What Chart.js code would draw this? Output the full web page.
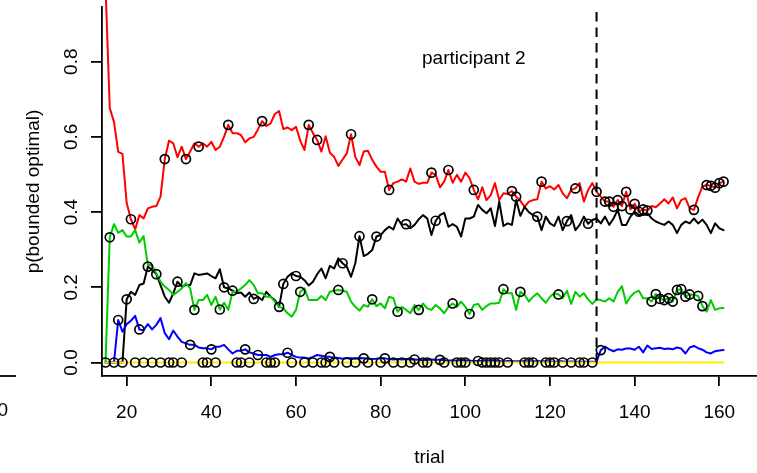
<!DOCTYPE html>
<html>
<head>
<meta charset="utf-8">
<script src="https://cdn.jsdelivr.net/npm/chart.js@4.4.1/dist/chart.umd.min.js"></script>
<style>
  html, body { margin: 0; padding: 0; background: #fff; }
  canvas { display: block; }
</style>
</head>
<body>
<canvas id="c" width="757" height="473"></canvas>
<script>
// trials 15..161
const firstTrial = 15;
const lastTrial = 161;
const trials = [];
for (let t = firstTrial; t <= lastTrial; t++) trials.push(t);

const xTicks = [20, 40, 60, 80, 100, 120, 140, 160];
const yTicks = [0, 0.2, 0.4, 0.6, 0.8];
const switchTrial = 131;

const red = [
  1.0, 0.677, 0.64, 0.56, 0.555, 0.424, 0.381, 0.354, 0.392, 0.383,
  0.41, 0.414, 0.416, 0.441, 0.541, 0.59, 0.583, 0.546, 0.574, 0.541,
  0.561, 0.583, 0.574, 0.583, 0.574, 0.587, 0.565, 0.574, 0.60, 0.632,
  0.61, 0.61, 0.605, 0.586, 0.596, 0.60, 0.62, 0.642, 0.629, 0.636,
  0.661, 0.669, 0.621, 0.625, 0.618, 0.627, 0.59, 0.565, 0.632, 0.61,
  0.592, 0.561, 0.602, 0.558, 0.547, 0.523, 0.54, 0.556, 0.607, 0.547,
  0.525, 0.561, 0.563, 0.539, 0.521, 0.507, 0.507, 0.459, 0.477, 0.481,
  0.487, 0.481, 0.516, 0.481, 0.475, 0.478, 0.478, 0.505, 0.499, 0.466,
  0.481, 0.512, 0.478, 0.499, 0.481, 0.505, 0.49, 0.459, 0.434, 0.466,
  0.432, 0.445, 0.477, 0.432, 0.45, 0.448, 0.456, 0.441, 0.43, 0.414,
  0.428, 0.432, 0.434, 0.481, 0.463, 0.469, 0.46, 0.472, 0.45, 0.437,
  0.459, 0.463, 0.477, 0.428, 0.459, 0.477, 0.454, 0.441, 0.428, 0.428,
  0.414, 0.432, 0.416, 0.454, 0.407, 0.422, 0.401, 0.407, 0.404, 0.416,
  0.413, 0.423, 0.434, 0.423, 0.439, 0.41, 0.432, 0.437, 0.41, 0.406,
  0.44, 0.468, 0.472, 0.47, 0.465, 0.477, 0.481
];

const black = [
  0, 0, 0, 0, 0, 0.168, 0.188, 0.18, 0.206, 0.21,
  0.255, 0.246, 0.235, 0.206, 0.175, 0.159, 0.184, 0.215, 0.202, 0.206,
  0.206, 0.237, 0.233, 0.235, 0.237, 0.23, 0.224, 0.248, 0.2, 0.197,
  0.191, 0.184, 0.186, 0.175, 0.186, 0.169, 0.175, 0.166, 0.188, 0.175,
  0.166, 0.148, 0.209, 0.228, 0.237, 0.23, 0.228, 0.219, 0.205, 0.215,
  0.235, 0.25, 0.224, 0.257, 0.25, 0.277, 0.264, 0.255, 0.228, 0.264,
  0.336, 0.283, 0.289, 0.299, 0.335, 0.339, 0.352, 0.361, 0.354, 0.383,
  0.366, 0.368, 0.357, 0.366, 0.381, 0.392, 0.383, 0.339, 0.377, 0.392,
  0.398, 0.361, 0.368, 0.361, 0.335, 0.383, 0.383, 0.388, 0.419, 0.406,
  0.397, 0.41, 0.363, 0.428, 0.363, 0.37, 0.366, 0.432, 0.39, 0.414,
  0.40, 0.392, 0.388, 0.352, 0.388, 0.37, 0.363, 0.388, 0.352, 0.376,
  0.392, 0.352, 0.366, 0.388, 0.369, 0.379, 0.383, 0.37, 0.388, 0.366,
  0.383, 0.406, 0.366, 0.366, 0.388, 0.401, 0.392, 0.392, 0.397, 0.383,
  0.375, 0.37, 0.366, 0.375, 0.366, 0.344, 0.366, 0.375, 0.37, 0.383,
  0.37, 0.38, 0.366, 0.344, 0.37, 0.357, 0.352
];

const green = [
  0, 0.333, 0.368, 0.345, 0.352, 0.335, 0.335, 0.352, 0.319, 0.336,
  0.259, 0.259, 0.237, 0.215, 0.202, 0.193, 0.18, 0.188, 0.197, 0.211,
  0.197, 0.14, 0.166, 0.166, 0.18, 0.153, 0.175, 0.141, 0.159, 0.14,
  0.188, 0.188, 0.197, 0.206, 0.219, 0.206, 0.184, 0.184, 0.175, 0.175,
  0.162, 0.148, 0.144, 0.131, 0.122, 0.14, 0.188, 0.197, 0.166, 0.166,
  0.166, 0.177, 0.166, 0.188, 0.191, 0.193, 0.191, 0.188, 0.162, 0.148,
  0.138, 0.153, 0.148, 0.168, 0.15, 0.157, 0.144, 0.175, 0.171, 0.135,
  0.148, 0.14, 0.131, 0.153, 0.14, 0.157, 0.144, 0.14, 0.153, 0.144,
  0.131, 0.148, 0.157, 0.148, 0.162, 0.148, 0.129, 0.153, 0.156, 0.14,
  0.15, 0.157, 0.157, 0.159, 0.195, 0.184, 0.184, 0.14, 0.188, 0.18,
  0.162, 0.175, 0.184, 0.171, 0.159, 0.175, 0.184, 0.181, 0.171, 0.191,
  0.156, 0.188, 0.175, 0.184, 0.168, 0.156, 0.168, 0.166, 0.162, 0.171,
  0.162, 0.188, 0.203, 0.157, 0.175, 0.186, 0.191, 0.171, 0.171, 0.162,
  0.182, 0.169, 0.166, 0.171, 0.162, 0.193, 0.195, 0.175, 0.181, 0.18,
  0.177, 0.15, 0.135, 0.166, 0.14, 0.144, 0.145
];

const blue = [
  0, 0, 0, 0.113, 0.082, 0.102, 0.111, 0.124, 0.088, 0.086,
  0.102, 0.088, 0.1, 0.118, 0.078, 0.062, 0.085, 0.069, 0.055, 0.051,
  0.047, 0.047, 0.04, 0.038, 0.038, 0.035, 0.042, 0.042, 0.047, 0.035,
  0.024, 0.031, 0.031, 0.035, 0.027, 0.024, 0.02, 0.02, 0.02, 0.015,
  0.02, 0.022, 0.022, 0.026, 0.02, 0.015, 0.013, 0.013, 0.011, 0.015,
  0.02, 0.018, 0.016, 0.015, 0.013, 0.012, 0.01, 0.012, 0.011, 0.01,
  0.012, 0.011, 0.01, 0.009, 0.01, 0.012, 0.011, 0.009, 0.008, 0.009,
  0.008, 0.009, 0.008, 0.008, 0.007, 0.006, 0.007, 0.008, 0.007, 0.007,
  0.006, 0.005, 0.006, 0.005, 0.005, 0.006, 0.005, 0.004, 0.004, 0.004,
  0.004, 0.005, 0.004, 0.004, 0.003, 0.004, 0.004, 0.003, 0.003, 0.004,
  0.003, 0.003, 0.004, 0.003, 0.003, 0.003, 0.002, 0.003, 0.003, 0.002,
  0.003, 0.002, 0.002, 0.002, 0.002, 0.002, 0.002, 0.033, 0.042, 0.035,
  0.03, 0.035, 0.034, 0.037, 0.037, 0.034, 0.042, 0.027, 0.045, 0.036,
  0.038, 0.039, 0.036, 0.037, 0.035, 0.04, 0.037, 0.024, 0.04, 0.044,
  0.038, 0.034, 0.027, 0.024, 0.03, 0.032, 0.033
];

const yellow = [
  0, 0, 0, 0, 0, 0, 0, 0, 0, 0, 0, 0, 0, 0, 0, 0, 0, 0, 0, 0, 0,
  0, 0, 0, 0, 0, 0, 0, 0, 0, 0, 0, 0, 0, 0, 0, 0, 0, 0, 0, 0, 0,
  0, 0, 0, 0, 0, 0, 0, 0, 0, 0, 0, 0, 0, 0, 0, 0, 0, 0, 0, 0, 0,
  0, 0, 0, 0, 0, 0, 0, 0, 0, 0, 0, 0, 0, 0, 0, 0, 0, 0, 0, 0, 0,
  0, 0, 0, 0, 0, 0, 0, 0, 0, 0, 0, 0, 0, 0, 0, 0, 0, 0, 0, 0, 0,
  0, 0, 0, 0, 0, 0, 0, 0, 0, 0, 0, 0, 0, 0, 0, 0, 0, 0, 0, 0, 0,
  0, 0, 0, 0, 0, 0, 0, 0, 0, 0, 0, 0, 0, 0, 0, 0, 0, 0, 0, 0, 0
];

// which strategy the choice on each trial agreed with (r k g b y)
const choices =
  'ygybykryby' + 'kykyryykyr' + 'bgryybygkr' + 'kyybykbryy' + 'ykkbykgyry' +
  'ryybygkyry' + 'kbygkybryg' + 'ykybgyyrkb' + 'yrgyyygrby' + 'yyyygyrrgy' +
  'yykryyygyk' + 'yryykyrbrr' + 'rrrrrrrrrg' + 'gggggggggr' + 'ggrrrrr';

const seriesByKey = { r: red, k: black, g: green, b: blue, y: yellow };

const FONT = "'Liberation Sans', Arial, Helvetica, sans-serif";

function toPoints(values) {
  return trials.map((t, i) => ({ x: t, y: values[i] }));
}

const choicePoints = trials.map((t, i) => ({ x: t, y: seriesByKey[choices[i]][i] }));

function lineSet(values, color, extra) {
  return Object.assign({
    data: toPoints(values),
    borderColor: color,
    borderWidth: 2,
    pointRadius: 0,
    tension: 0,
    fill: false,
    borderJoinStyle: 'round',
    borderCapStyle: 'round'
  }, extra || {});
}

// dashed line at the switch, label, and the stray bits at far left
const extras = {
  id: 'extras',
  afterDatasetsDraw(chart) {
    const ctx = chart.ctx;
    const xs = chart.scales.x, ys = chart.scales.y;
    const area = chart.chartArea;
    const xp = xs.getPixelForValue(switchTrial);

    ctx.save();
    ctx.strokeStyle = '#000';
    ctx.lineWidth = 2;
    ctx.setLineDash([9.5, 6]);
    ctx.beginPath();
    ctx.moveTo(xp, ys.getPixelForValue(0));
    ctx.lineTo(xp, area.top);
    ctx.stroke();
    ctx.restore();

    ctx.save();
    ctx.fillStyle = '#000';
    ctx.font = '19px ' + FONT;
    ctx.textAlign = 'center';
    ctx.textBaseline = 'middle';
    ctx.fillText('participant 2', xs.getPixelForValue(102), ys.getPixelForValue(0.807));

    ctx.textAlign = 'right';
    ctx.fillText('0', 8, 411);
    ctx.strokeStyle = '#000';
    ctx.lineWidth = 1.8;
    ctx.beginPath();
    ctx.moveTo(0, area.bottom);
    ctx.lineTo(16, area.bottom);
    ctx.stroke();
    ctx.restore();
  }
};

new Chart(document.getElementById('c'), {
  type: 'line',
  data: {
    datasets: [
      {
        data: choicePoints,
        showLine: false,
        pointRadius: 4.5,
        pointBorderWidth: 1.7,
        pointBorderColor: '#000',
        pointBackgroundColor: 'rgba(0,0,0,0)',
        borderColor: '#000'
      },
      lineSet(yellow, '#FFEE00'),
      lineSet(blue, '#0000FF'),
      lineSet(green, '#00CD00'),
      lineSet(black, '#000000'),
      lineSet(red, '#FF0000', { clip: false })
    ]
  },
  options: {
    responsive: false,
    devicePixelRatio: 1,
    animation: false,
    layout: { autoPadding: false, padding: { top: 7, right: 0, bottom: 0, left: 0 } },
    plugins: {
      legend: { display: false },
      tooltip: { enabled: false }
    },
    scales: {
      x: {
        type: 'linear',
        min: 14.17,
        max: 168.9,
        border: { display: true, color: '#000', width: 1.8 },
        grid: { display: true, drawOnChartArea: false, drawTicks: true, tickLength: 10, color: '#000', lineWidth: 1.8 },
        ticks: {
          color: '#000',
          font: { family: FONT, size: 19 },
          padding: 15,
          maxRotation: 0,
          autoSkip: false,
          callback: v => String(v)
        },
        title: {
          display: true,
          text: 'trial',
          color: '#000',
          font: { family: FONT, size: 19 },
          padding: { top: 0, bottom: 3.6 }
        },
        afterBuildTicks: s => { s.ticks = xTicks.map(v => ({ value: v })); },
        afterFit: s => {
          s.height = 97;
          s.paddingLeft = 0;
          s.paddingRight = 0;
        }
      },
      y: {
        type: 'linear',
        min: -0.0359,
        max: 0.9455,
        border: { display: true, color: '#000', width: 1.8 },
        grid: { display: true, drawOnChartArea: false, drawTicks: true, tickLength: 11, color: '#000', lineWidth: 1.8 },
        ticks: {
          color: '#000',
          font: { family: FONT, size: 19 },
          padding: 6,
          minRotation: 90,
          maxRotation: 90,
          crossAlign: 'center',
          autoSkip: false,
          callback: v => v.toFixed(1)
        },
        title: {
          display: true,
          text: 'p(bounded optimal)',
          color: '#000',
          font: { family: FONT, size: 19 },
          padding: { top: 22, bottom: 0 }
        },
        afterBuildTicks: s => { s.ticks = yTicks.map(v => ({ value: v })); },
        afterFit: s => {
          s.width = 102;
          s.paddingTop = 0;
          s.paddingBottom = 0;
        }
      }
    }
  },
  plugins: [extras]
});
</script>
</body>
</html>
